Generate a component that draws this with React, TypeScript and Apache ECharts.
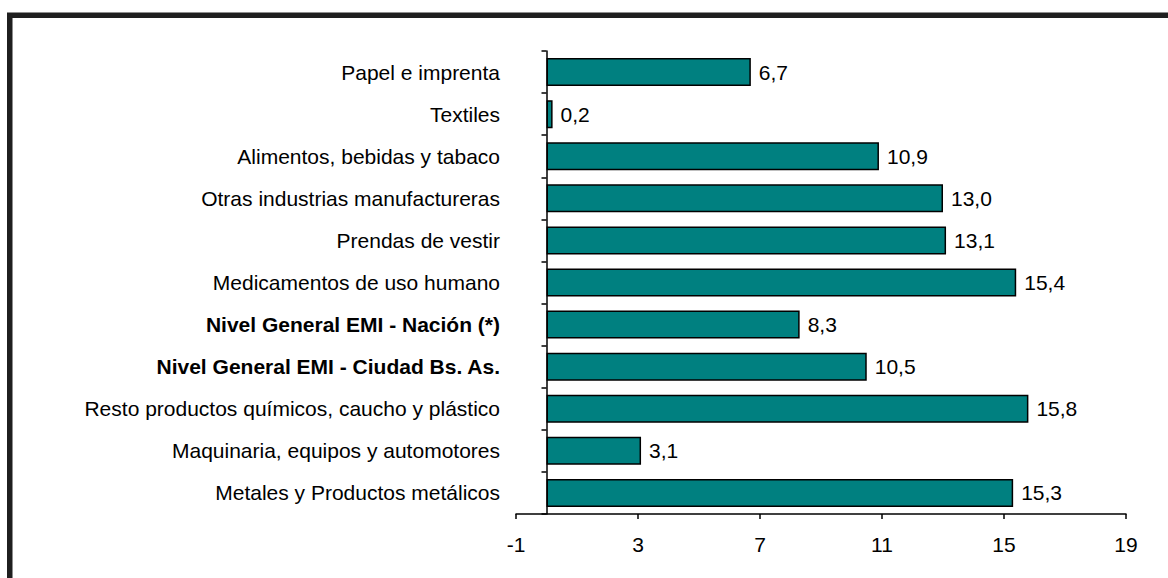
import React, { useEffect, useRef } from "react";
import * as echarts from "echarts";

const categories = [
  "Papel e imprenta",
  "Textiles",
  "Alimentos, bebidas y tabaco",
  "Otras industrias manufactureras",
  "Prendas de vestir",
  "Medicamentos de uso humano",
  "Nivel General EMI - Nación (*)",
  "Nivel General EMI - Ciudad Bs. As.",
  "Resto productos químicos, caucho y plástico",
  "Maquinaria, equipos y automotores",
  "Metales y Productos metálicos",
];
const values = [6.7, 0.2, 10.9, 13.0, 13.1, 15.4, 8.3, 10.5, 15.8, 3.1, 15.3];
const boldCategories = ["Nivel General EMI - Nación (*)", "Nivel General EMI - Ciudad Bs. As."];
const xMin = -1;
const xMax = 19;
const xInterval = 4;

const FONT = "'Liberation Sans', Arial, sans-serif";

export default function App() {
  const ref = useRef<HTMLDivElement>(null);
  useEffect(() => {
    if (!ref.current) return;
    const chart = echarts.init(ref.current, null, { renderer: "svg" });
    chart.setOption({
      animation: false,
      backgroundColor: "#ffffff",
      textStyle: { fontFamily: FONT },
      graphic: [
        {
          type: "rect",
          shape: { x: 9.75, y: 15.25, width: 1400, height: 800 },
          style: { fill: "none", stroke: "#1f1f1f", lineWidth: 5.5 },
          silent: true,
          z: 100,
        },
      ],
      grid: { left: 516, right: 42, top: 51, bottom: 64, containLabel: false },
      xAxis: {
        type: "value",
        min: xMin,
        max: xMax,
        interval: xInterval,
        splitLine: { show: false },
        axisLine: { show: true, onZero: false, lineStyle: { color: "#000", width: 1.5 } },
        axisTick: { show: true, length: 5, lineStyle: { color: "#000", width: 1.5 } },
        axisLabel: { color: "#000", fontSize: 21, fontFamily: FONT, margin: 20 },
      },
      yAxis: {
        type: "category",
        data: categories,
        inverse: true,
        axisLine: { show: true, onZero: true, lineStyle: { color: "#000", width: 1.5 } },
        axisTick: { show: true, length: 5, lineStyle: { color: "#000", width: 1.5 } },
        axisLabel: {
          color: "#000",
          fontSize: 21,
          fontFamily: FONT,
          margin: 16,
          formatter: (v: string) => (boldCategories.includes(v) ? `{b|${v}}` : `{n|${v}}`),
          rich: {
            b: { fontWeight: "bold", fontSize: 21, color: "#000", fontFamily: FONT },
            n: { fontSize: 21, color: "#000", fontFamily: FONT },
          },
        },
      },
      series: [
        {
          type: "bar",
          data: values,
          barWidth: 28,
          itemStyle: { color: "#008080", borderColor: "#000", borderWidth: 1.5 },
          label: {
            show: true,
            position: "right",
            distance: 8,
            color: "#000",
            fontSize: 21,
            fontFamily: FONT,
            formatter: (p: any) => Number(p.value).toFixed(1).replace(".", ","),
          },
        },
      ],
    });
    return () => chart.dispose();
  }, []);
  return (
    <div
      ref={ref}
      style={{ position: "fixed", left: 0, top: 0, width: 1168, height: 578 }}
    />
  );
}
